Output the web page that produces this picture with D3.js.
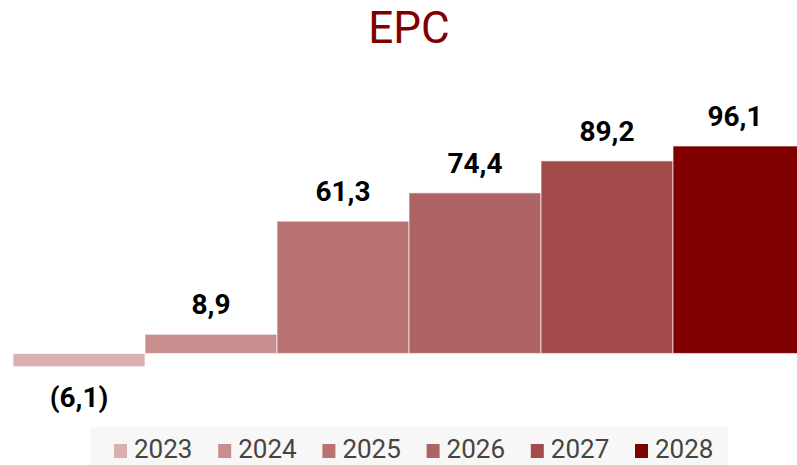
<!DOCTYPE html>
<html>
<head>
<meta charset="utf-8">
<script src="https://cdn.jsdelivr.net/npm/d3@7"></script>
<style>
  html, body { margin: 0; padding: 0; background: #ffffff; overflow: hidden; }
  svg { display: block; }
</style>
</head>
<body>
<svg id="chart" width="797" height="465"></svg>
<script>
const title = "EPC";
const years = ["2023", "2024", "2025", "2026", "2027", "2028"];
const values = [-6.1, 8.9, 61.3, 74.4, 89.2, 96.1];
const labels = ["(6,1)", "8,9", "61,3", "74,4", "89,2", "96,1"];
const colors = ["#D9AFAF", "#C88D8D", "#B87272", "#AE6464", "#A34B4B", "#800000"];

const svg = d3.select("#chart");
const W = 797, H = 465;

const x = d3.scaleBand().domain(years).range([13, 805]).padding(0);
const y = d3.scaleLinear().domain([-10, 100]).range([375.1, 137.6]);

svg.append("text")
  .attr("x", (13 + 805) / 2)
  .attr("y", 43)
  .attr("text-anchor", "middle")
  .style("font-family", "Roboto, sans-serif")
  .style("font-size", "44px")
  .style("fill", "#800000")
  .text(title);

const data = years.map((yr, i) => ({ yr, v: values[i], label: labels[i], color: colors[i] }));

svg.append("g").selectAll("rect").data(data).join("rect")
  .attr("x", d => x(d.yr))
  .attr("width", x.bandwidth())
  .attr("y", d => Math.min(y(0), y(d.v)))
  .attr("height", d => Math.abs(y(d.v) - y(0)))
  .attr("fill", d => d.color)
  .attr("stroke", "rgba(255,255,255,0.55)")
  .attr("stroke-width", 1.2);

svg.append("g").selectAll("text").data(data).join("text")
  .attr("x", d => (x(d.yr) + Math.min(x(d.yr) + x.bandwidth(), W)) / 2)
  .attr("y", d => d.v >= 0 ? y(d.v) - 20 : y(d.v) + 40)
  .attr("text-anchor", "middle")
  .style("font-family", "Roboto, sans-serif")
  .style("font-weight", "700")
  .style("font-size", "28px")
  .style("fill", "#000")
  .text(d => d.label);

// Legend
const lg = svg.append("g");
lg.append("rect")
  .attr("x", 90).attr("y", 427)
  .attr("width", 638).attr("height", 40)
  .attr("fill", "#F7F7F7");

const item = lg.selectAll("g.item").data(data).join("g")
  .attr("class", "item")
  .attr("transform", (d, i) => `translate(${114 + i * 104.2},0)`);
item.append("rect")
  .attr("x", 0).attr("y", 444)
  .attr("width", 13).attr("height", 14)
  .attr("fill", d => d.color);
item.append("text")
  .attr("x", 20).attr("y", 458)
  .style("font-family", "Roboto, sans-serif")
  .style("font-size", "26px")
  .style("fill", "#444")
  .text(d => d.yr);
</script>
</body>
</html>
